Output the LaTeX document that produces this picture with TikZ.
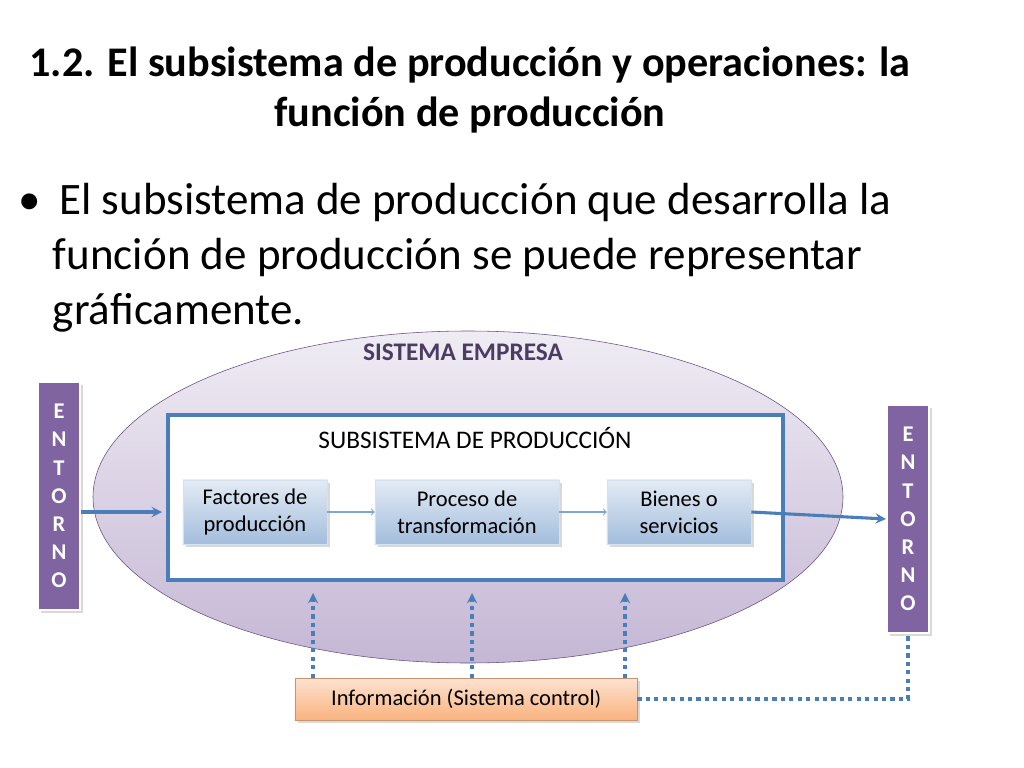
\documentclass[tikz,border=0pt]{standalone}
\usepackage{fontspec}
\setmainfont{Carlito}
\usetikzlibrary{positioning,shadows}
\definecolor{entornopurple}{HTML}{8064A2}
\definecolor{linkblue}{HTML}{4A7EBB}
\definecolor{boxblue}{HTML}{B9CDE5}
\definecolor{ellfill}{HTML}{CCC0DA}
\definecolor{infoorange}{HTML}{F9B88C}

\begin{document}
\begin{tikzpicture}[x=0.025cm,y=-0.025cm,
    stagebox/.style={draw=boxblue!60!white, top color=white!60!boxblue, bottom color=boxblue!80!linkblue,
        minimum width=3.6cm, minimum height=1.6cm, inner sep=1pt, font=\fontsize{16}{19}\selectfont,
        align=center, drop shadow={opacity=0.3}},
    entornobox/.style={draw=white, line width=1.5pt, fill=entornopurple, text=white, minimum width=1.05cm,
        font=\fontsize{16}{20}\selectfont\bfseries, align=center, inner sep=2pt, drop shadow={opacity=0.3}},
    thinlink/.style={->, linkblue!70, line width=0.8pt},
    biglink/.style={-stealth, linkblue, line width=2.2pt},
    dashlink/.style={dashed, linkblue, line width=2.2pt}]
    \useasboundingbox (0,0) rectangle (1024,768);
    % title and bullet
    \node (title) at (470,90) [align=center, font=\fontsize{30}{36}\selectfont\bfseries]
        {1.2. El subsistema de producción y operaciones: la\\función de producción};
    \node (bullet) at (14,258) [anchor=west, align=left, font=\fontsize{32}{39}\selectfont]
        {\textbullet\hspace{0.45cm}El subsistema de producción que desarrolla la\\
        \hspace{0.85cm}función de producción se puede representar\\
        \hspace{0.85cm}gráficamente.};
    % sistema empresa
    \draw[entornopurple!80!black, top color=ellfill!30, bottom color=ellfill!90!entornopurple]
        (468,497) ellipse [x radius=375, y radius=-166];
    \node (empresa) at (463,352) [font=\fontsize{18}{20}\selectfont\bfseries, text=entornopurple!60!black] {SISTEMA EMPRESA};
    \draw[linkblue, line width=2.2pt, fill=white] (168,415) rectangle (783,580);
    \node (subsistema) at (475,438) [font=\fontsize{18}{20}\selectfont] {SUBSISTEMA DE PRODUCCIÓN};
    % stages
    \node (factores) at (255,512) [stagebox] {Factores de\\producción};
    \node (proceso) at (467,512) [stagebox, minimum width=4.6cm] {Proceso de\\transformación};
    \node (bienes) at (679,512) [stagebox] {Bienes o\\servicios};
    \draw[thinlink] (factores) -- (proceso);
    \draw[thinlink] (proceso) -- (bienes);
    % entorno
    \node (entornoL) at (59,496) [entornobox, minimum height=5.7cm] {E\\N\\T\\O\\R\\N\\O};
    \node (entornoR) at (908,519) [entornobox, minimum height=5.7cm] {E\\N\\T\\O\\R\\N\\O};
    \coordinate (inlet) at (162,512);
    \draw[biglink] (entornoL.east |- inlet) -- (inlet);
    \draw[biglink] (bienes.east) -- (entornoR.west);
    % informacion
    \node (info) at (466,699) [draw=infoorange!80!black, top color=infoorange!40, bottom color=infoorange!90!orange,
        minimum width=8.55cm, minimum height=1.05cm, font=\fontsize{16}{19}\selectfont, drop shadow={opacity=0.3}]
        {Información (Sistema control{\Large)}};
    \foreach \xx/\nm in {313/a, 472/b, 625/c} {
        \coordinate (up\nm) at (\xx,593);
        \draw[dashlink, -stealth] (up\nm |- info.north) -- (up\nm);
    }
    \draw[dashlink] (info.east) -| (entornoR.south);
\end{tikzpicture}
\end{document}
